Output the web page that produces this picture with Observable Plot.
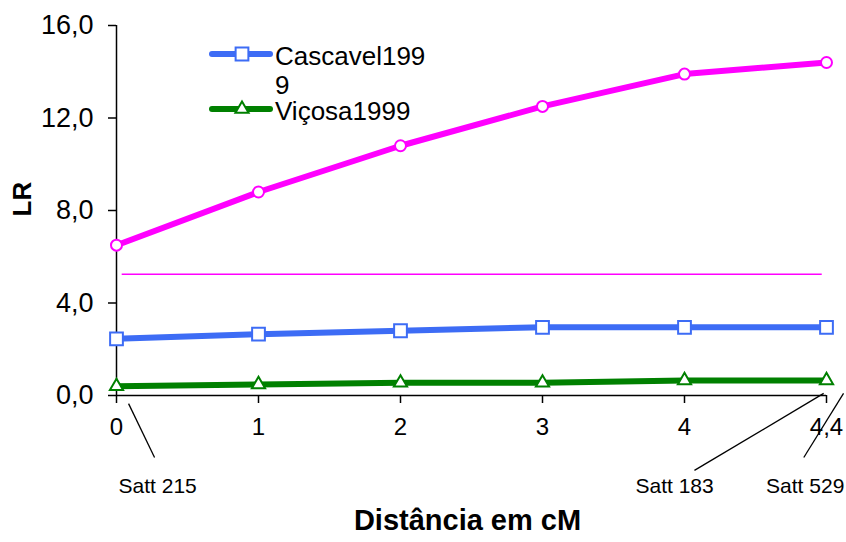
<!DOCTYPE html>
<html>
<head>
<meta charset="utf-8">
<script src="https://cdn.jsdelivr.net/npm/d3@7"></script>
<script src="https://cdn.jsdelivr.net/npm/@observablehq/plot@0.6"></script>
<style>
  html, body { margin: 0; padding: 0; background: #fff; }
  #wrap { position: relative; width: 846px; height: 542px; font-family: "Liberation Sans", Arial, sans-serif; }
  #legend { position: absolute; left: 0; top: 0; pointer-events: none; }
</style>
</head>
<body>
<div id="wrap"></div>
<script>
// ---- data ----
const positions = [0, 1, 2, 3, 4, 5];
const distLabels = ["0", "1", "2", "3", "4", "4,4"];
const lrMagenta = [6.5, 8.8, 10.8, 12.5, 13.9, 14.4];
const lrCascavel = [2.45, 2.65, 2.8, 2.95, 2.95, 2.95];
const lrVicosa = [0.4, 0.48, 0.55, 0.55, 0.65, 0.65];
const threshold = [5.24];
const thresholdFrom = 0.04;
const thresholdTo = 4.97;
const yTicks = [0, 4, 8, 12, 16];
const seriesNames = ["Cascavel1999", "Viçosa1999"];

// marker annotations (data units: x = index, y = LR)
const sattNames = ["Satt 215", "Satt 183", "Satt 529"];
const sattLabelX = [0.29, 3.93, 4.85];
const sattLabelY = [-3.94, -3.94, -3.94];
const sattX1 = [0.085, 4.07, 4.84];
const sattY1 = [-0.35, -3.24, -2.68];
const sattX2 = [0.268, 4.98, 5.12];
const sattY2 = [-2.68, 0.09, 0.09];

const rows = (vals) => positions.map((p, i) => ({x: p, y: vals[i]}));
const magenta = rows(lrMagenta);
const cascavel = rows(lrCascavel);
const vicosa = rows(lrVicosa);
const satt = sattNames.map((n, i) => ({name: n, lx: sattLabelX[i], ly: sattLabelY[i], x1: sattX1[i], y1: sattY1[i], x2: sattX2[i], y2: sattY2[i]}));

const FONT = "Liberation Sans, Arial, sans-serif";
const cMag = "#ff00ff", cBlue = "#3d6cf5", cGreen = "#008000";

const chart = Plot.plot({
  width: 846,
  height: 542,
  marginLeft: 116,
  marginRight: 20,
  marginTop: 25,
  marginBottom: 147,
  style: {fontFamily: FONT, color: "#000", background: "#fff"},
  x: {domain: [0, 5], axis: null},
  y: {domain: [0, 16], axis: null},
  marks: [
    Plot.axisX({ticks: positions, tickFormat: (d) => distLabels[d], tickSize: 8, tickPadding: 14, fontSize: 24, label: null, stroke: "#000", strokeWidth: 1.5}),
    Plot.axisY({ticks: yTicks, tickFormat: (d) => d.toFixed(1).replace(".", ","), tickSize: 8, tickPadding: 15, fontSize: 27, label: null, stroke: "#000", strokeWidth: 1.5}),
    Plot.ruleY([0], {stroke: "#000", strokeWidth: 1.5}),
    Plot.ruleX([0], {stroke: "#000", strokeWidth: 1.5}),
    Plot.ruleY(threshold, {x1: thresholdFrom, x2: thresholdTo, stroke: cMag, strokeWidth: 1.5}),
    Plot.line(magenta, {x: "x", y: "y", stroke: cMag, strokeWidth: 6}),
    Plot.line(cascavel, {x: "x", y: "y", stroke: cBlue, strokeWidth: 6}),
    Plot.line(vicosa, {x: "x", y: "y", stroke: cGreen, strokeWidth: 6}),
    Plot.dot(magenta, {x: "x", y: "y", r: 5.5, fill: "#fff", stroke: cMag, strokeWidth: 2}),
    Plot.dot(cascavel, {x: "x", y: "y", symbol: "square", r: 7.2, fill: "#fff", stroke: cBlue, strokeWidth: 2}),
    Plot.dot(vicosa, {x: "x", y: "y", symbol: "triangle", r: 4.9, fill: "#fff", stroke: cGreen, strokeWidth: 2}),
    Plot.link(satt, {x1: "x1", y1: "y1", x2: "x2", y2: "y2", stroke: "#000", strokeWidth: 1.3, clip: false}),
    Plot.text(satt, {x: "lx", y: "ly", text: "name", fontSize: 21, fill: "#000", clip: false}),
    Plot.text(["Distância em cM"], {frameAnchor: "bottom", dy: 134, dx: -4, fontSize: 29, fontWeight: "bold", fill: "#000"}),
    Plot.text(["LR"], {frameAnchor: "left", dx: -94, dy: 6, rotate: -90, fontSize: 26, fontWeight: "bold", fill: "#000"})
  ]
});

const wrap = document.getElementById("wrap");
wrap.appendChild(chart);

// legend overlay (inside plot area, top-left)
const leg = d3.create("svg").attr("id", "legend").attr("width", 846).attr("height", 542)
  .style("font-family", FONT);
const items = [
  {name: seriesNames[0], color: cBlue, sym: d3.symbolSquare, size: Math.PI * 7.2 * 7.2, y: 54, lines: ["Cascavel199", "9"]},
  {name: seriesNames[1], color: cGreen, sym: d3.symbolTriangle, size: Math.PI * 4.9 * 4.9, y: 109, lines: ["Viçosa1999"]}
];
items.forEach((it) => {
  leg.append("line").attr("x1", 212).attr("x2", 270).attr("y1", it.y).attr("y2", it.y)
    .attr("stroke", it.color).attr("stroke-width", 6).attr("stroke-linecap", "round");
  leg.append("path").attr("d", d3.symbol(it.sym, it.size)()).attr("transform", `translate(242,${it.y})`)
    .attr("fill", "#fff").attr("stroke", it.color).attr("stroke-width", 2);
  const t = leg.append("text").attr("x", 275).attr("y", it.y + 11).attr("font-size", 26).attr("fill", "#000");
  it.lines.forEach((ln, k) => {
    t.append("tspan").attr("x", 275).attr("dy", k === 0 ? 0 : 29).text(ln);
  });
});
wrap.appendChild(leg.node());
</script>
</body>
</html>
